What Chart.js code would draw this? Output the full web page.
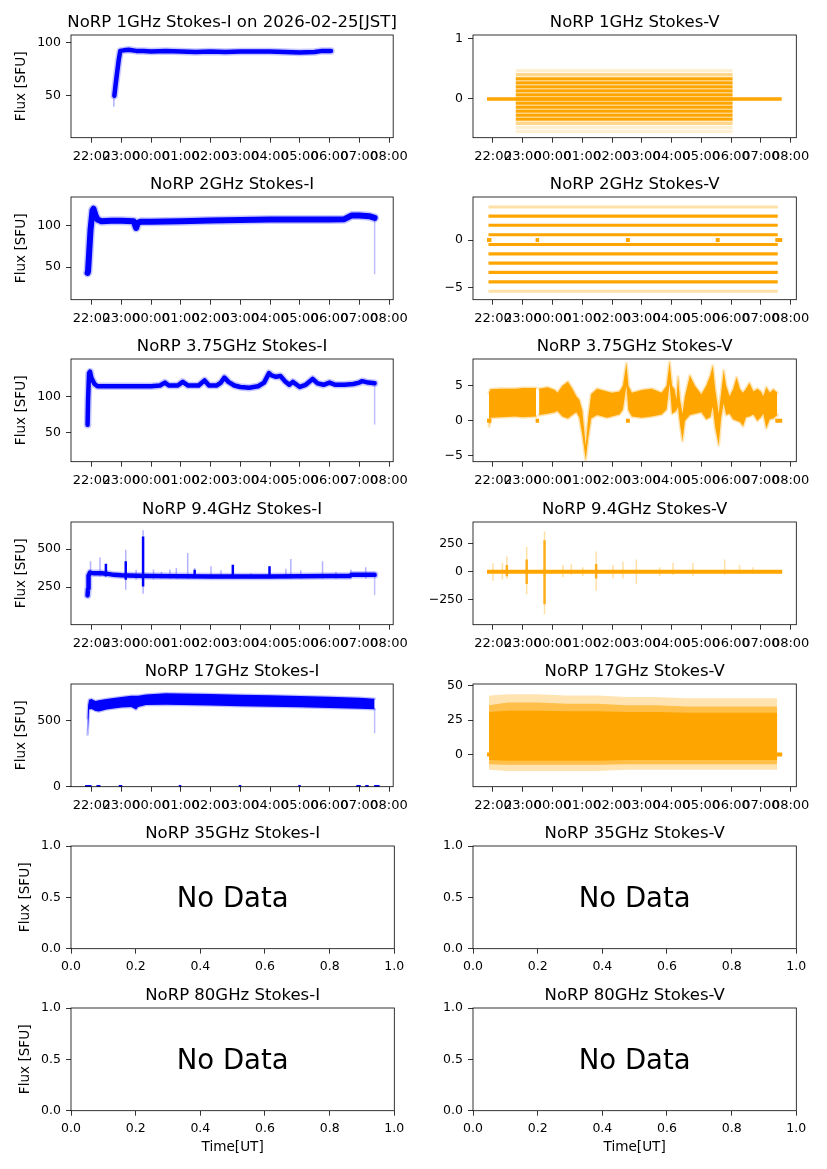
<!DOCTYPE html>
<html>
<head>
<meta charset="utf-8">
<script src="https://cdn.jsdelivr.net/npm/chart.js"></script>
<style>
    body { margin: 0; background: #fff; }
    #fig { position: relative; width: 827px; height: 1169px; overflow: hidden; }
    #fig canvas { position: absolute; }
</style>
</head>
<body>
<div id="fig"></div>
<script>
"use strict";

// ---- data (times are UT "HH:MM", flux in SFU) ----

const xTicks = [22, 23, 24, 25, 26, 27, 28, 29, 30, 31, 32];
const unitTicksX = [0, 0.2, 0.4, 0.6, 0.8, 1];
const unitTicksY = [0, 0.5, 1];

// 1 GHz
const i1LeadTime = ['22:45', '22:45'];
const i1LeadFlux = [40, 50];
const i1Time = ['22:46', '22:49', '22:52', '22:55', '22:58', '23:05', '23:15', '23:30', '23:45', '00:00', '00:30', '01:00', '01:30', '02:00', '02:30', '03:00', '03:30', '04:00', '04:30', '05:00', '05:30', '05:45', '06:03'];
const i1Flux = [50, 62, 73, 84, 92, 92.5, 93, 92, 92, 91.5, 92, 91.5, 91, 91.5, 91, 91.5, 91.5, 91.5, 91, 90.5, 91, 92, 92];
const v1ZeroSpan = ['21:48', '07:42'];
const v1Span = ['22:46', '06:03'];
const v1Levels = [0.333, 0.267, 0.2, 0.133, 0.067, 0, -0.067, -0.133, -0.2, -0.267, -0.333];
const v1SparseLevels = [0.4, -0.4];
const v1FaintLevels = [0.467, -0.467, -0.533];

// 2 GHz
const i2Time = ['21:52', '21:53', '21:58', '22:02', '22:04', '22:08', '22:12', '22:20', '22:40', '23:00', '23:25', '23:30', '23:33', '23:40', '00:00', '01:00', '02:00', '03:00', '04:00', '05:00', '06:00', '06:30', '06:45', '07:00', '07:20', '07:31'];
const i2Flux = [43, 45, 95, 118, 120, 112, 107, 105, 105.5, 105.5, 105, 97, 103, 104.5, 104.5, 105, 106, 106.5, 107, 107, 107, 107.5, 112, 112, 111, 109];
const i2DropTime = ['07:31', '07:31'];
const i2DropFlux = [108, 42];
const v2Span = ['21:51', '07:34'];
const v2Levels = [2.5, 1.55, 0.55, -0.47, -1.45, -2.42, -3.4, -4.4];
const v2SparseLevels = [3.45, -5.38];
const vZeroStart = ['21:48', '23:26', '02:28', '05:29', '07:29'];
const vZeroEnd = ['21:57', '23:33', '02:36', '05:37', '07:43'];

// 3.75 GHz
const i3Time = ['21:52', '21:53', '21:55', '21:57', '22:00', '22:06', '22:12', '23:00', '23:30', '00:00', '00:18', '00:28', '00:36', '00:54', '01:04', '01:15', '01:36', '01:48', '01:57', '02:12', '02:21', '02:28', '02:36', '02:48', '03:00', '03:18', '03:36', '03:48', '03:58', '04:03', '04:12', '04:21', '04:30', '04:39', '04:46', '04:54', '05:00', '05:12', '05:26', '05:36', '05:48', '06:00', '06:12', '06:30', '06:48', '07:00', '07:06', '07:18', '07:31'];
const i3Flux = [61, 95, 132, 134, 125, 117, 114, 114, 114, 114, 115, 119, 115, 115, 120, 115, 115, 122, 115, 115, 119, 126, 120, 115, 113, 112, 114, 119, 132, 129, 127, 128, 121, 116, 120, 116, 113, 116, 124, 118, 116, 119, 116, 116, 117, 119, 121, 119, 118];
const i3DropTime = ['07:31', '07:31'];
const i3DropFlux = [116, 62];
const v3Time = ['21:52', '21:55', '22:15', '22:45', '23:00', '23:27', '23:30', '23:33', '23:50', '00:05', '00:10', '00:20', '00:31', '00:40', '00:48', '00:54', '01:00', '01:07', '01:12', '01:18', '01:30', '01:50', '02:00', '02:15', '02:22', '02:29', '02:33', '02:40', '03:00', '03:20', '03:40', '03:50', '03:56', '04:01', '04:06', '04:10', '04:13', '04:17', '04:22', '04:27', '04:37', '04:47', '05:00', '05:10', '05:18', '05:23', '05:28', '05:35', '05:40', '05:45', '05:50', '05:57', '06:04', '06:11', '06:18', '06:24', '06:30', '06:37', '06:45', '06:53', '07:00', '07:05', '07:11', '07:18', '07:25', '07:33'];
const v3Upper = [4.0, 4.5, 4.6, 4.6, 4.7, 4.7, null, 4.6, 4.8, 4.4, 4.0, 5.0, 5.6, 4.6, 3.5, 3.0, 1.5, -3.6, 0.5, 3.8, 4.6, 4.2, 4.0, 4.2, 5.0, 8.2, 5.0, 4.0, 4.4, 4.6, 4.0, 5.0, 8.4, 5.0, 4.5, 3.0, 6.3, 3.0, 1.0, 3.5, 6.5, 5.0, 3.8, 5.0, 6.5, 7.9, 4.5, 1.0, 4.0, 7.2, 5.0, 3.5, 4.5, 6.2, 4.5, 4.0, 4.6, 5.4, 4.2, 4.6, 4.2, 3.5, 4.8, 4.0, 4.5, 4.0];
const v3Lower = [-0.8, 0.4, 0.5, 0.6, 0.5, 0.6, null, 0.8, 1.0, 1.2, 1.4, 0.6, 0.3, 0.8, 1.2, 0.5, -2.0, -5.6, -2.5, 0.3, 0.8, 0.4, 0.6, 0.9, 1.6, 5.0, 1.5, 0.6, 0.4, 0.6, 0.9, 1.6, 5.3, 1.0, 1.2, 1.5, 2.0, -0.5, -2.9, 0.0, 0.8, 1.0, 1.2, 0.2, 0.5, 2.0, -1.0, -3.5, 0.5, 2.5, 0.8, 1.0, 0.2, 0.0, -0.2, -0.8, 0.5, 0.6, 0.9, 0.0, 0.5, 1.0, -1.1, 0.2, 0.3, 0.8];

// 9.4 GHz
const i9Time = ['21:52', '21:53', '21:54', '21:57', '22:05', '22:20', '22:30', '22:45', '23:00', '23:30', '00:00', '01:00', '02:00', '03:00', '04:00', '05:00', '06:00', '06:40', '06:44', '07:00', '07:31'];
const i9Flux = [195, 240, 325, 345, 340, 340, 338, 330, 327, 324, 322, 321, 320, 320, 320, 321, 322, 322, 330, 331, 330];
const i9DropTime = ['07:31', '07:31'];
const i9DropFlux = [320, 200];
const i9SpikeTime = ['21:58', '22:17', '23:09', '23:30', '23:44', '00:05', '00:21', '00:38', '00:51', '01:14', '01:28', '02:01', '02:21', '02:45', '03:22', '03:59', '04:32', '04:42', '05:02', '05:46', '06:13', '06:43', '07:13'];
const i9SpikeTop = [419, 445, 495, 364, 623, 365, 350, 365, 375, 474, 375, 386, 360, 397, 340, 386, 370, 434, 360, 419, 350, 365, 380];
const i9SpikeBottom = [320, 320, 232, 300, 206, 300, 305, 305, 305, 305, 305, 305, 305, 305, 305, 305, 305, 305, 305, 305, 305, 305, 305];
const i9CoreTime = ['22:29', '23:09', '23:44', '01:28', '02:45', '03:59'];
const i9CoreTop = [403, 419, 583, 364, 397, 386];
const i9CoreBottom = [320, 298, 254, 320, 315, 315];
const v9ZeroSpan = ['21:48', '07:43'];
const v9SpikeTime = ['22:00', '22:19', '22:28', '23:08', '23:44', '00:21', '00:38', '01:01', '01:28', '02:02', '02:22', '02:49', '03:36', '04:03', '04:43', '05:47', '06:17', '06:44'];
const v9SpikeTop = [75, 80, 135, 220, 360, 60, 70, 40, 180, 60, 90, 110, 40, 80, 80, 110, 60, 40];
const v9SpikeBottom = [-80, -70, -60, -200, -380, -50, -30, -40, -170, -60, -60, -110, -40, -30, -40, -30, -20, -20];
const v9CoreTime = ['22:28', '23:08', '23:44', '01:28'];
const v9CoreTop = [60, 110, 280, 70];
const v9CoreBottom = [-40, -110, -290, -60];

// 17 GHz
const i17Time = ['21:52', '21:53', '21:55', '22:00', '22:08', '22:15', '22:30', '23:00', '23:20', '23:30', '23:34', '23:50', '00:30', '01:00', '02:00', '03:00', '04:00', '05:00', '06:00', '07:00', '07:31'];
const i17Upper = [520, 615, 660, 665, 650, 655, 665, 680, 690, 690, 690, 700, 708, 706, 703, 697, 694, 688, 682, 675, 668];
const i17Lower = [395, 440, 585, 590, 575, 570, 585, 600, 605, 585, 605, 620, 622, 620, 615, 610, 607, 602, 597, 592, 588];
const i17DropTime = ['07:31', '07:31'];
const i17DropFlux = [590, 410];
const i17ZeroStart = ['21:47', '22:10', '22:55', '00:56', '02:57', '04:57', '06:54', '07:12', '07:30'];
const i17ZeroEnd = ['22:00', '22:18', '23:02', '01:01', '03:02', '05:02', '07:03', '07:19', '07:41'];
const v17ZeroSpan = ['21:48', '07:43'];
const v17Time = ['21:52', '22:30', '23:30', '00:30', '01:30', '02:30', '03:30', '04:30', '05:30', '06:30', '07:33'];
const v17CoreUp = [31, 32, 32, 31.5, 31.5, 31, 31, 30.5, 30.5, 30.5, 30.5];
const v17CoreLo = [-4, -4.5, -4.5, -4.5, -4.5, -4, -4, -4, -4, -4, -4];
const v17MidUp = [36, 38, 38, 37, 37, 36, 36, 35, 35, 35, 35];
const v17MidLo = [-7, -7.5, -7.5, -7.5, -7.5, -7, -7, -7, -7, -7, -7];
const v17HaloUp = [43, 44, 44, 43, 43, 42, 42, 41, 41, 41, 41];
const v17HaloLo = [-11, -12, -12, -12, -12, -11, -11, -11, -11, -11, -11];

// axis limits per column [min, max]
const xlimLeft = [21.31, 32.14];
const xlimRight = [21.33, 32.19];

// ---- helpers ----

var BLUE = '#0000ff';
var ORANGE = '#ffa500';
var FONT = 'DejaVu Sans';

var ROW_STEP = 162.2, AX_TOP = 35, AX_H = 102.7, AX_W = 323.3, AX_LEFT = 71, CANVAS_W = 414;
var COL_X = [0, 402.3];

function hrs(s) {
    var p = s.split(':');
    var h = +p[0] + p[1] / 60;
    return h < 12 ? h + 24 : h;
}

function fade(hex, a) {
    var r = parseInt(hex.slice(1, 3), 16);
    var g = parseInt(hex.slice(3, 5), 16);
    var b = parseInt(hex.slice(5, 7), 16);
    return 'rgba(' + r + ',' + g + ',' + b + ',' + a + ')';
}

function line(times, vals, color, width, cap) {
    return {
        data: times.map(function (t, i) { return { x: hrs(t), y: vals[i] }; }),
        borderColor: color,
        borderWidth: width,
        borderCapStyle: cap || 'round',
        borderJoinStyle: 'round',
        pointRadius: 0,
        fill: false,
        spanGaps: false,
        clip: 0
    };
}

// thick trace with a soft, speckled-looking edge
function trace(times, vals, color, width) {
    return [line(times, vals, fade(color, 0.22), width + 3), line(times, vals, color, width)];
}

function flat(span, y, color, width) {
    return line(span, [y, y], color, width, 'butt');
}

function band(times, up, lo, fillColor, edgeColor, edgeWidth) {
    var a = line(times, up, edgeColor || 'rgba(0,0,0,0)', edgeWidth || 1);
    var b = line(times, lo, edgeColor || 'rgba(0,0,0,0)', edgeWidth || 1);
    b.fill = '-1';
    b.backgroundColor = fillColor;
    return [a, b];
}

function bars(times, tops, bottoms, color, width) {
    return times.map(function (t, i) {
        return line([t, t], [bottoms[i], tops[i]], color, width, 'butt');
    });
}

function timeLabel(v) {
    var h = Math.round(v) % 24;
    return (h < 10 ? '0' : '') + h + ':00';
}

function signLabel(v) {
    return String(v).replace('-', '\u2212');
}

// frame, title, axis labels, "No Data"
var panelDecor = {
    id: 'panelDecor',
    afterDatasetsDraw: function (chart, args, o) {
        var a = chart.chartArea, ctx = chart.ctx;
        var cx = (a.left + a.right) / 2, cy = (a.top + a.bottom) / 2;
        ctx.save();
        ctx.strokeStyle = '#000';
        ctx.lineWidth = 0.8;
        ctx.strokeRect(a.left, a.top, a.right - a.left, a.bottom - a.top);
        ctx.fillStyle = '#000';
        ctx.textAlign = 'center';
        ctx.textBaseline = 'alphabetic';
        ctx.font = '16.5px "' + FONT + '"';
        ctx.fillText(o.title, cx, a.top - 8.3);
        if (o.noData) {
            ctx.font = '27.5px "' + FONT + '"';
            ctx.fillText('No Data', cx, cy + 10);
        }
        if (o.xlabel) {
            ctx.font = '13.6px "' + FONT + '"';
            ctx.fillText(o.xlabel, cx, a.bottom + 40);
        }
        if (o.ylabel) {
            ctx.translate(o.ylabelX, cy);
            ctx.rotate(-Math.PI / 2);
            ctx.font = '13.6px "' + FONT + '"';
            ctx.textBaseline = 'middle';
            ctx.fillText(o.ylabel, 0, 0);
        }
        ctx.restore();
    }
};

function axis(lim, ticks, fmt, fitFn, pad, size) {
    return {
        type: 'linear',
        min: lim[0],
        max: lim[1],
        afterBuildTicks: function (s) {
            s.ticks = ticks.map(function (v) { return { value: v }; });
        },
        afterFit: fitFn,
        border: { display: false },
        grid: { drawOnChartArea: false, drawTicks: true, tickLength: 5, tickWidth: 0.8, tickColor: '#000' },
        ticks: {
            autoSkip: false, maxRotation: 0, minRotation: 0, padding: pad,
            color: '#000', font: { family: FONT, size: size },
            callback: fmt
        }
    };
}

var fig = document.getElementById('fig');

function panel(row, col, opt) {
    var h = row === 6 ? 196 : 162;
    var cv = document.createElement('canvas');
    cv.width = CANVAS_W;
    cv.height = h;
    cv.style.left = COL_X[col] + 'px';
    cv.style.top = (row * ROW_STEP) + 'px';
    cv.style.width = CANVAS_W + 'px';
    cv.style.height = h + 'px';
    fig.appendChild(cv);

    var ds = opt.datasets || [];
    ds.forEach(function (d, i) { d.order = -i; });   // later datasets on top

    var unit = !!opt.noData;
    var xlim = unit ? [0, 1] : (col === 0 ? xlimLeft : xlimRight);
    var fmtY = unit ? function (v) { return v.toFixed(1); } : signLabel;
    var fmtX = unit ? function (v) { return v.toFixed(1); } : timeLabel;

    new Chart(cv, {
        type: 'line',
        data: { datasets: ds },
        options: {
            responsive: false,
            animation: false,
            events: [],
            layout: { padding: { left: 0, top: AX_TOP, right: CANVAS_W - AX_LEFT - AX_W, bottom: 0 } },
            plugins: {
                legend: { display: false },
                tooltip: { enabled: false },
                panelDecor: {
                    title: opt.title,
                    ylabel: col === 0 ? 'Flux [SFU]' : '',
                    ylabelX: row >= 5 ? 25 : 21.7,
                    xlabel: row === 6 ? 'Time[UT]' : '',
                    noData: unit
                }
            },
            scales: {
                x: axis(xlim, unit ? unitTicksX : xTicks, fmtX,
                    function (s) { s.height = h - AX_TOP - AX_H; }, 6, unit ? 12.5 : 13),
                y: axis(opt.ylim || [0, 1], opt.yticks || unitTicksY, fmtY,
                    function (s) { s.width = AX_LEFT; }, 5, 12.5)
            }
        },
        plugins: [panelDecor]
    });
}

// ---- panels ----

panel(0, 0, {
    title: 'NoRP 1GHz Stokes-I on 2026-02-25[JST]',
    ylim: [10.6, 106.9], yticks: [50, 100],
    datasets: [line(i1LeadTime, i1LeadFlux, fade(BLUE, 0.3), 1.5)]
        .concat(trace(i1Time, i1Flux, BLUE, 4.5))
});
panel(0, 1, {
    title: 'NoRP 1GHz Stokes-V',
    ylim: [-0.638, 1.055], yticks: [0, 1],
    datasets: [flat(v1ZeroSpan, 0, ORANGE, 3.5)]
        .concat(v1FaintLevels.map(function (y) { return flat(v1Span, y, fade(ORANGE, 0.18), 3.3); }))
        .concat(v1SparseLevels.map(function (y) { return flat(v1Span, y, fade(ORANGE, 0.45), 3.3); }))
        .concat(v1Levels.map(function (y) { return flat(v1Span, y, ORANGE, 3.3); }))
});

panel(1, 0, {
    title: 'NoRP 2GHz Stokes-I',
    ylim: [10.8, 134.1], yticks: [50, 100],
    datasets: [line(i2DropTime, i2DropFlux, fade(BLUE, 0.25), 1.5)]
        .concat(trace(i2Time, i2Flux, BLUE, 6))
});
panel(1, 1, {
    title: 'NoRP 2GHz Stokes-V',
    ylim: [-6.26, 4.51], yticks: [-5, 0],
    datasets: vZeroStart.map(function (t, i) { return flat([t, vZeroEnd[i]], 0, ORANGE, 4); })
        .concat(v2SparseLevels.map(function (y) { return flat(v2Span, y, fade(ORANGE, 0.35), 3); }))
        .concat(v2Levels.map(function (y) { return flat(v2Span, y, ORANGE, 3.2); }))
});

panel(2, 0, {
    title: 'NoRP 3.75GHz Stokes-I',
    ylim: [10.4, 151.4], yticks: [50, 100],
    datasets: [line(i3DropTime, i3DropFlux, fade(BLUE, 0.25), 1.5)]
        .concat(trace(i3Time, i3Flux, BLUE, 4.5))
});
panel(2, 1, {
    title: 'NoRP 3.75GHz Stokes-V',
    ylim: [-5.9, 8.86], yticks: [-5, 0, 5],
    datasets: vZeroStart.map(function (t, i) { return flat([t, vZeroEnd[i]], 0, ORANGE, 4); })
        .concat(band(v3Time, v3Upper, v3Lower, ORANGE, fade(ORANGE, 0.3), 3))
});

panel(3, 0, {
    title: 'NoRP 9.4GHz Stokes-I',
    ylim: [2, 678], yticks: [250, 500],
    datasets: bars(i9SpikeTime, i9SpikeTop, i9SpikeBottom, fade(BLUE, 0.3), 1.5)
        .concat(bars(i9CoreTime, i9CoreTop, i9CoreBottom, BLUE, 2.5))
        .concat([line(i9DropTime, i9DropFlux, fade(BLUE, 0.25), 1.5)])
        .concat(trace(i9Time, i9Flux, BLUE, 4.5))
});
panel(3, 1, {
    title: 'NoRP 9.4GHz Stokes-V',
    ylim: [-473, 444], yticks: [-250, 0, 250],
    datasets: bars(v9SpikeTime, v9SpikeTop, v9SpikeBottom, fade(ORANGE, 0.35), 1.5)
        .concat(bars(v9CoreTime, v9CoreTop, v9CoreBottom, fade(ORANGE, 0.85), 2.5))
        .concat([flat(v9ZeroSpan, 0, ORANGE, 4)])
});

panel(4, 0, {
    title: 'NoRP 17GHz Stokes-I',
    ylim: [0, 779], yticks: [0, 500],
    datasets: i17ZeroStart.map(function (t, i) { return flat([t, i17ZeroEnd[i]], 0, BLUE, 3.5); })
        .concat([line(i17DropTime, i17DropFlux, fade(BLUE, 0.25), 1.5)])
        .concat(band(i17Time, i17Upper, i17Lower, BLUE, fade(BLUE, 0.25), 2.5))
});
panel(4, 1, {
    title: 'NoRP 17GHz Stokes-V',
    ylim: [-23.4, 51.4], yticks: [0, 25, 50],
    datasets: [flat(v17ZeroSpan, 0, ORANGE, 4)]
        .concat(band(v17Time, v17HaloUp, v17HaloLo, fade(ORANGE, 0.3)))
        .concat(band(v17Time, v17MidUp, v17MidLo, fade(ORANGE, 0.6)))
        .concat(band(v17Time, v17CoreUp, v17CoreLo, ORANGE))
});

panel(5, 0, { title: 'NoRP 35GHz Stokes-I', noData: true });
panel(5, 1, { title: 'NoRP 35GHz Stokes-V', noData: true });
panel(6, 0, { title: 'NoRP 80GHz Stokes-I', noData: true });
panel(6, 1, { title: 'NoRP 80GHz Stokes-V', noData: true });
</script>
</body>
</html>
